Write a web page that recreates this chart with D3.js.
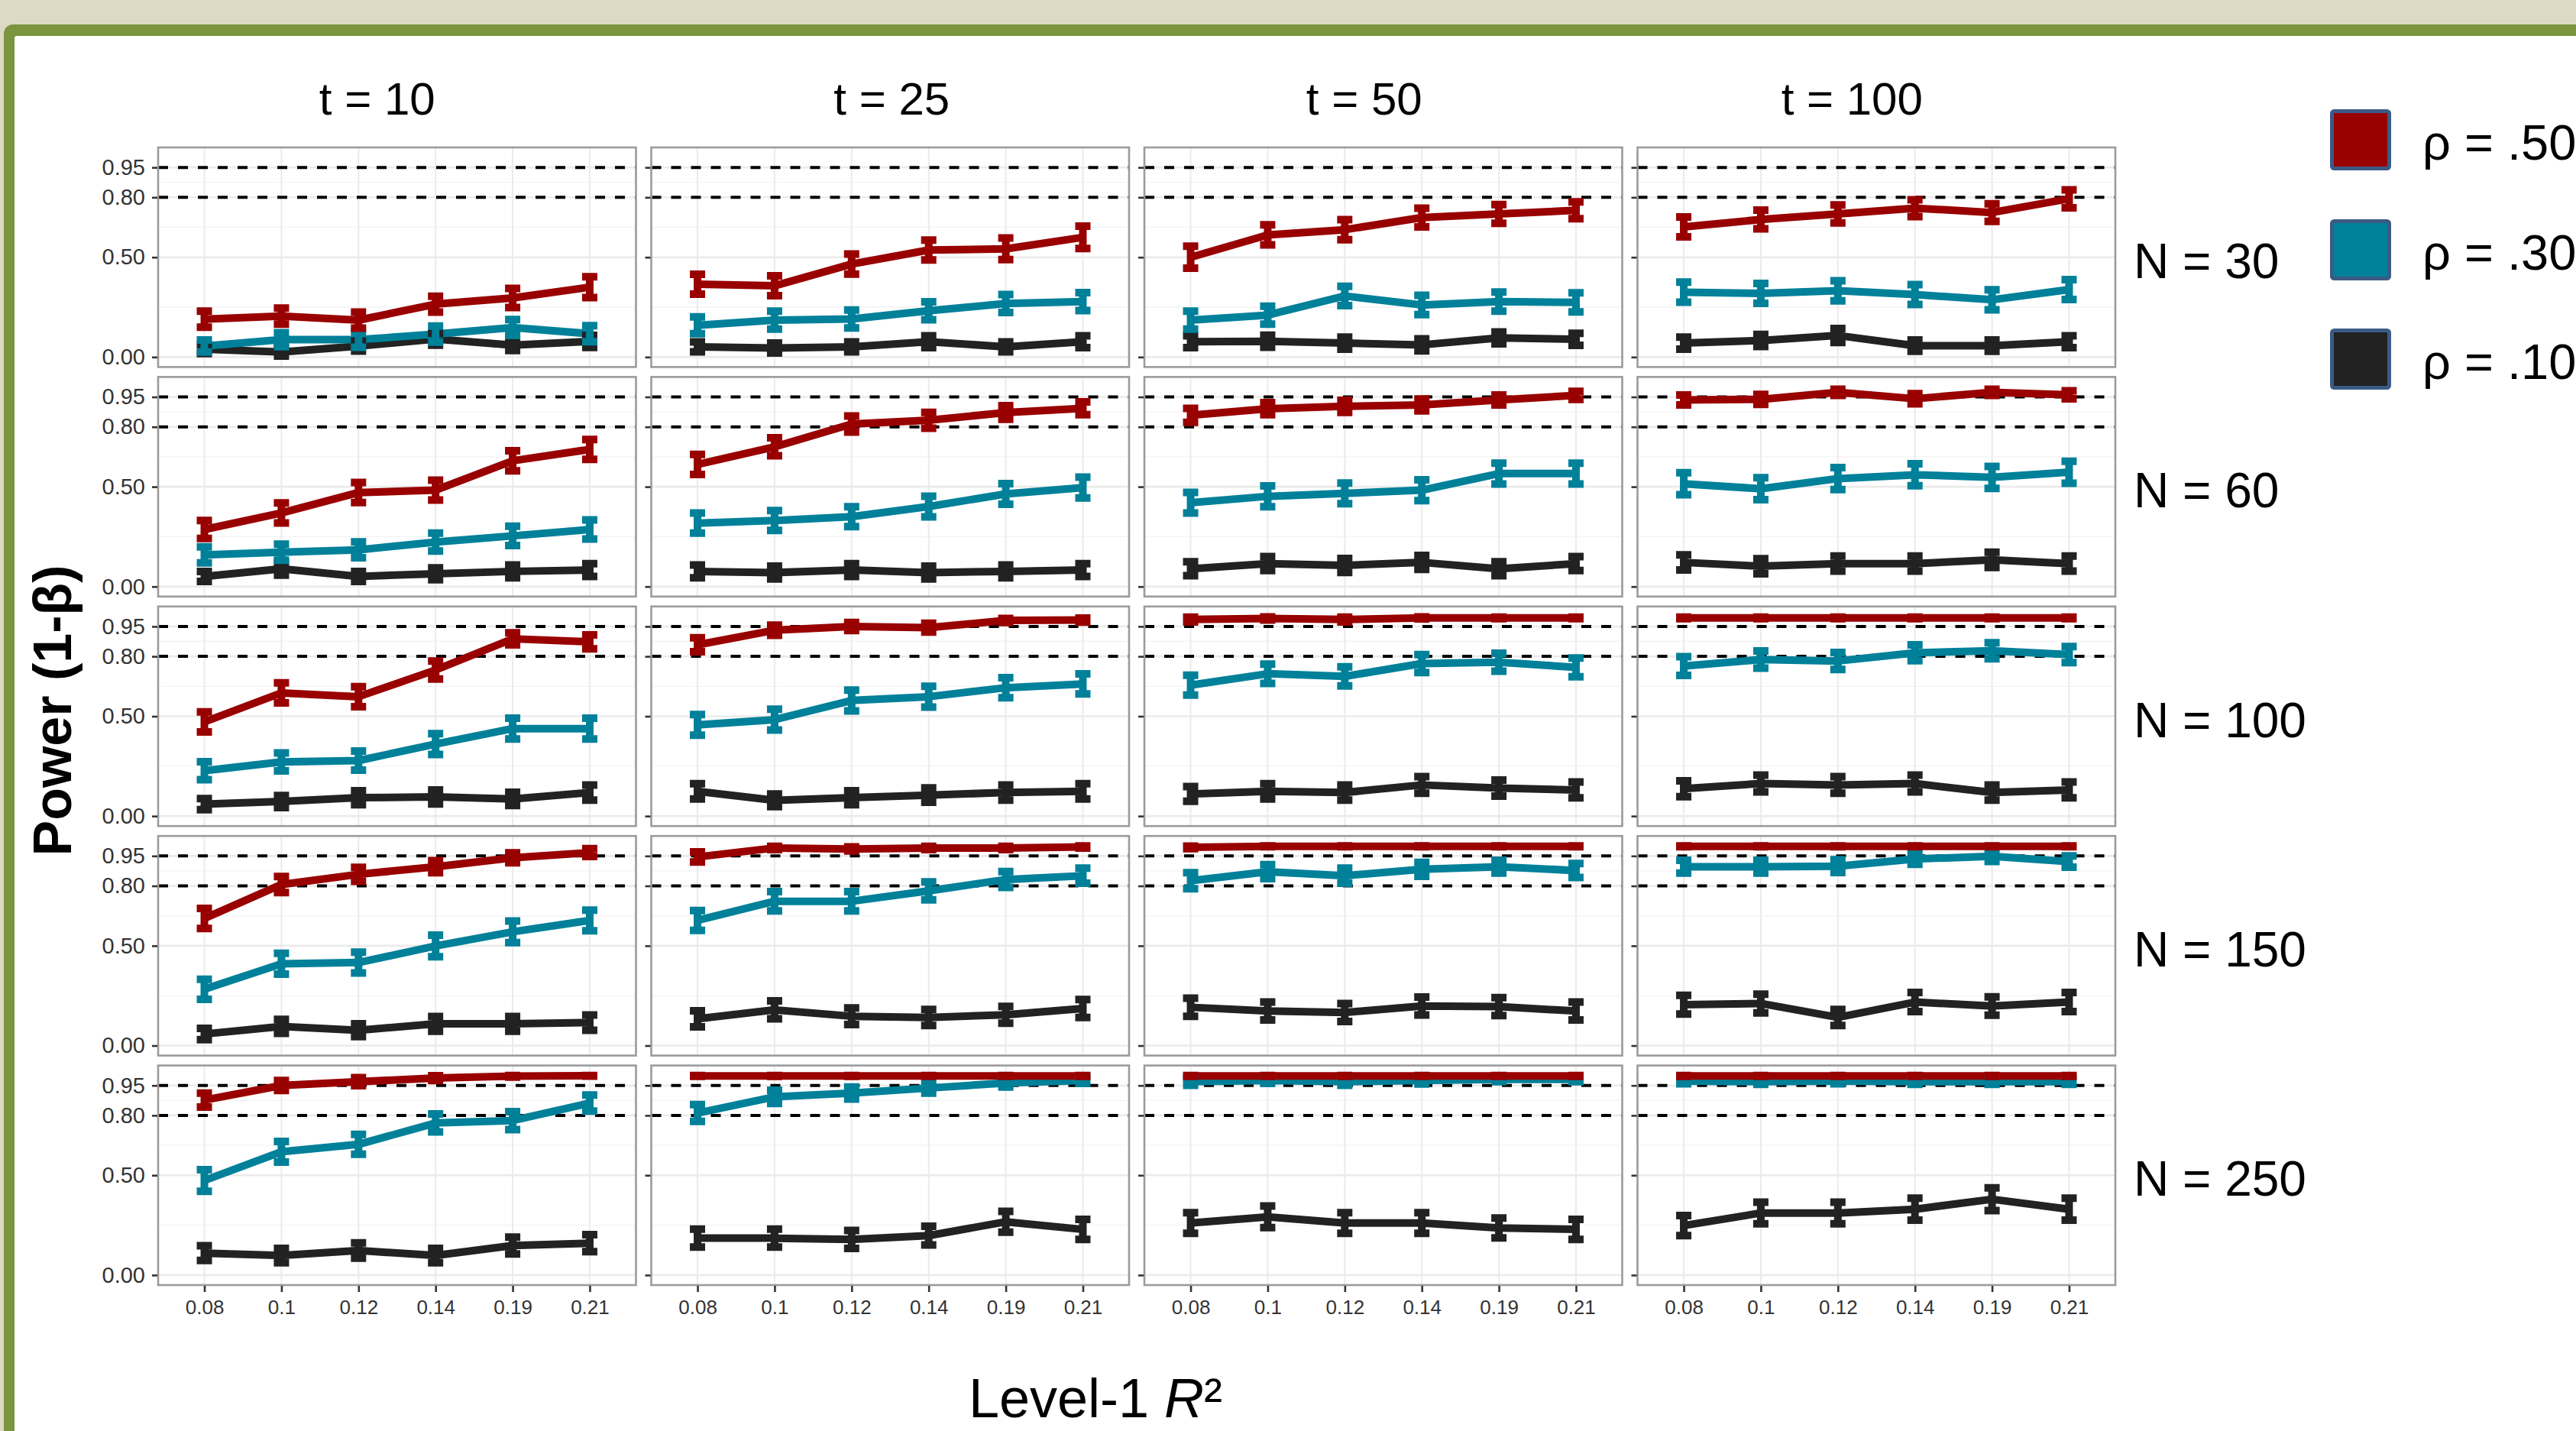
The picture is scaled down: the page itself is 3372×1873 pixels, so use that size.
<!DOCTYPE html>
<html><head><meta charset="utf-8">
<script src="https://cdn.jsdelivr.net/npm/d3@7"></script>
<style>html,body{margin:0;padding:0;background:#fff;overflow:hidden}text{font-family:"Liberation Sans",Arial,sans-serif}</style>
</head><body><svg id="c" width="3372" height="1873"></svg>
<script>
// ---------- data ----------
const tLabels = ["t = 10", "t = 25", "t = 50", "t = 100"];
const nLabels = ["N = 30", "N = 60", "N = 100", "N = 150", "N = 250"];
const r2Labels = ["0.08", "0.1", "0.12", "0.14", "0.19", "0.21"];
const rhoLabels = ["ρ = .50", "ρ = .30", "ρ = .10"];
const rhoColors = ["#990000", "#008099", "#222222"];
const yTicks = [0, 0.5, 0.8, 0.95];
const yMinor = [0.25, 0.65, 0.875];
const refLines = [0.8, 0.95];

// power[rowN][colT] = values over r2Labels
const powerRho50 = [
  [[0.19,0.205,0.185,0.265,0.296,0.35],[0.365,0.357,0.466,0.536,0.542,0.6],[0.5,0.612,0.638,0.699,0.717,0.735],[0.652,0.689,0.717,0.746,0.724,0.793]],
  [[0.286,0.369,0.471,0.483,0.63,0.687],[0.612,0.7,0.814,0.833,0.872,0.893],[0.858,0.891,0.903,0.91,0.935,0.958],[0.935,0.938,0.973,0.941,0.973,0.961]],
  [[0.472,0.617,0.598,0.732,0.888,0.873],[0.858,0.931,0.95,0.944,0.98,0.982],[0.985,0.99,0.985,0.993,0.993,0.993],[0.993,0.993,0.993,0.993,0.993,0.993]],
  [[0.637,0.807,0.858,0.896,0.941,0.967],[0.945,0.99,0.985,0.99,0.99,0.995],[0.993,0.998,0.998,0.998,0.998,0.998],[0.998,0.998,0.998,0.998,0.998,0.998]],
  [[0.877,0.95,0.969,0.987,0.997,0.999],[0.998,0.998,0.998,0.998,0.998,0.998],[0.998,0.998,0.998,0.998,0.998,0.998],[0.998,0.998,0.998,0.998,0.998,0.998]]
];
const errRho50 = [
  [[0.04,0.04,0.04,0.04,0.048,0.052],[0.05,0.05,0.05,0.05,0.054,0.056],[0.055,0.05,0.05,0.047,0.047,0.042],[0.05,0.047,0.045,0.042,0.044,0.045]],
  [[0.045,0.05,0.05,0.05,0.05,0.05],[0.05,0.045,0.04,0.04,0.034,0.032],[0.035,0.03,0.03,0.03,0.025,0.02],[0.025,0.025,0.015,0.025,0.015,0.02]],
  [[0.05,0.05,0.05,0.045,0.03,0.035],[0.035,0.025,0.02,0.022,0.01,0.01],[0.012,0.008,0.012,0.005,0.004,0.004],[0.004,0.004,0.004,0.004,0.004,0.004]],
  [[0.05,0.04,0.035,0.03,0.025,0.02],[0.025,0.008,0.01,0.008,0.008,0.005],[0.006,0.002,0.002,0.002,0.002,0.002],[0.002,0.002,0.002,0.002,0.002,0.002]],
  [[0.035,0.025,0.02,0.012,0.005,0.002],[0.002,0.002,0.002,0.002,0.002,0.002],[0.002,0.002,0.002,0.002,0.002,0.002],[0.002,0.002,0.002,0.002,0.002,0.002]]
];
const powerRho30 = [
  [[0.055,0.087,0.087,0.115,0.148,0.117],[0.159,0.185,0.191,0.232,0.268,0.278],[0.185,0.21,0.306,0.261,0.278,0.274],[0.325,0.319,0.332,0.313,0.287,0.338]],
  [[0.159,0.172,0.184,0.223,0.254,0.286],[0.318,0.331,0.35,0.401,0.464,0.496],[0.42,0.452,0.467,0.483,0.566,0.566],[0.515,0.49,0.541,0.56,0.547,0.573]],
  [[0.227,0.271,0.278,0.361,0.438,0.438],[0.457,0.483,0.579,0.598,0.643,0.662],[0.656,0.713,0.7,0.764,0.771,0.745],[0.752,0.784,0.777,0.818,0.828,0.809]],
  [[0.282,0.41,0.416,0.499,0.57,0.627],[0.627,0.723,0.723,0.775,0.832,0.851],[0.826,0.871,0.851,0.883,0.896,0.877],[0.896,0.896,0.899,0.935,0.948,0.922]],
  [[0.474,0.618,0.655,0.762,0.774,0.862],[0.812,0.893,0.912,0.937,0.962,0.975],[0.969,0.975,0.969,0.975,0.981,0.981],[0.972,0.969,0.972,0.969,0.969,0.969]]
];
const errRho30 = [
  [[0.03,0.035,0.038,0.04,0.04,0.04],[0.042,0.045,0.045,0.045,0.045,0.045],[0.045,0.045,0.048,0.048,0.048,0.048],[0.05,0.05,0.05,0.05,0.05,0.05]],
  [[0.04,0.04,0.04,0.045,0.048,0.048],[0.05,0.05,0.05,0.052,0.052,0.052],[0.052,0.052,0.052,0.052,0.052,0.052],[0.055,0.055,0.055,0.055,0.055,0.055]],
  [[0.045,0.045,0.048,0.052,0.052,0.052],[0.052,0.052,0.052,0.052,0.05,0.05],[0.05,0.048,0.048,0.045,0.045,0.047],[0.047,0.043,0.043,0.04,0.04,0.04]],
  [[0.05,0.052,0.052,0.054,0.054,0.052],[0.05,0.048,0.048,0.045,0.04,0.038],[0.04,0.035,0.038,0.035,0.032,0.035],[0.032,0.032,0.032,0.027,0.025,0.028]],
  [[0.054,0.052,0.05,0.045,0.045,0.04],[0.042,0.033,0.03,0.025,0.02,0.015],[0.018,0.015,0.018,0.017,0.012,0.012],[0.013,0.013,0.013,0.013,0.013,0.013]]
];
const powerRho10 = [
  [[0.04,0.025,0.055,0.09,0.06,0.078],[0.051,0.045,0.051,0.077,0.051,0.077],[0.077,0.079,0.07,0.061,0.096,0.089],[0.07,0.083,0.108,0.057,0.057,0.077]],
  [[0.051,0.089,0.051,0.064,0.076,0.083],[0.076,0.07,0.083,0.07,0.076,0.083],[0.089,0.115,0.106,0.121,0.089,0.115],[0.121,0.102,0.115,0.115,0.134,0.115]],
  [[0.06,0.073,0.092,0.096,0.086,0.118],[0.124,0.079,0.092,0.105,0.118,0.124],[0.111,0.124,0.118,0.156,0.14,0.131],[0.137,0.163,0.156,0.163,0.118,0.131]],
  [[0.058,0.096,0.077,0.109,0.109,0.115],[0.134,0.179,0.147,0.141,0.154,0.186],[0.192,0.173,0.166,0.198,0.195,0.173],[0.205,0.211,0.141,0.218,0.198,0.218]],
  [[0.11,0.098,0.123,0.098,0.148,0.16],[0.185,0.185,0.179,0.198,0.267,0.229],[0.261,0.292,0.261,0.261,0.236,0.229],[0.248,0.311,0.311,0.33,0.38,0.33]]
];
const errRho10 = [
  [[0.022,0.02,0.025,0.03,0.027,0.03],[0.025,0.025,0.025,0.03,0.025,0.03],[0.03,0.03,0.03,0.03,0.03,0.03],[0.03,0.03,0.035,0.028,0.028,0.03]],
  [[0.025,0.032,0.025,0.03,0.032,0.032],[0.032,0.032,0.032,0.032,0.032,0.032],[0.035,0.035,0.035,0.035,0.035,0.035],[0.038,0.038,0.038,0.038,0.038,0.038]],
  [[0.028,0.03,0.035,0.035,0.033,0.038],[0.038,0.032,0.035,0.036,0.038,0.038],[0.037,0.038,0.038,0.042,0.04,0.04],[0.04,0.042,0.042,0.042,0.038,0.04]],
  [[0.028,0.035,0.032,0.037,0.037,0.038],[0.04,0.045,0.042,0.04,0.042,0.045],[0.045,0.045,0.045,0.045,0.045,0.045],[0.047,0.047,0.04,0.048,0.046,0.048]],
  [[0.037,0.036,0.038,0.036,0.042,0.043],[0.045,0.045,0.045,0.047,0.052,0.05],[0.052,0.054,0.052,0.052,0.05,0.05],[0.05,0.054,0.054,0.055,0.057,0.055]]
];

// series in drawing order (bottom to top)
const seriesPower = [powerRho10, powerRho30, powerRho50];
const seriesErr = [errRho10, errRho30, errRho50];
const seriesColor = [rhoColors[2], rhoColors[1], rhoColors[0]];

// ---------- layout ----------
const W = 3372, H = 1873;
const svg = d3.select("#c");

svg.append("rect").attr("width", W).attr("height", H).attr("fill", "#ddd9c4");
svg.append("rect").attr("x", 5).attr("y", 32).attr("width", W + 60).attr("height", H + 60).attr("rx", 12).attr("fill", "#7b943f");
svg.append("rect").attr("x", 19).attr("y", 47).attr("width", W + 60).attr("height", H + 60).attr("rx", 3).attr("fill", "#ffffff");

const colBand = d3.scaleBand().domain(d3.range(tLabels.length)).range([207, 2769]).paddingInner(0.031);
const rowBand = d3.scaleBand().domain(d3.range(nLabels.length)).range([193, 1682]).paddingInner(0.0433);
const bw = colBand.bandwidth(), bh = rowBand.bandwidth();

const capHalf = 10;
const lw = 10;
// column-title horizontal offsets from column centre (titles were placed by hand in the source)
const titleShift = [-26, 2, -25, -32];

tLabels.forEach((tl, c) => {
  svg.append("text").attr("x", colBand(c) + bw / 2 + titleShift[c]).attr("y", 150)
    .attr("text-anchor", "middle").attr("font-size", 60).attr("fill", "#000").text(tl);
});

nLabels.forEach((nl, r) => {
  svg.append("text").attr("x", 2793).attr("y", rowBand(r) + bh / 2 + 27)
    .attr("font-size", 64).attr("fill", "#000").text(nl);
});

for (let r = 0; r < nLabels.length; r++) {
  for (let c = 0; c < tLabels.length; c++) {
    const x0 = colBand(c), y0 = rowBand(r);
    const x = d3.scalePoint().domain(r2Labels).range([x0, x0 + bw]).padding(0.6);
    const y = d3.scaleLinear().domain([-0.05, 1.05]).range([y0 + bh, y0]);
    const g = svg.append("g");

    // grid
    g.selectAll(".mn").data(yMinor).join("line")
      .attr("x1", x0).attr("x2", x0 + bw).attr("y1", d => y(d)).attr("y2", d => y(d))
      .attr("stroke", "#f3f3f3").attr("stroke-width", 1.3);
    g.selectAll(".mj").data(yTicks).join("line")
      .attr("x1", x0).attr("x2", x0 + bw).attr("y1", d => y(d)).attr("y2", d => y(d))
      .attr("stroke", "#ebebeb").attr("stroke-width", 2.6);
    g.selectAll(".vx").data(r2Labels).join("line")
      .attr("x1", d => x(d)).attr("x2", d => x(d)).attr("y1", y0).attr("y2", y0 + bh)
      .attr("stroke", "#ebebeb").attr("stroke-width", 2);

    // reference dashed lines
    g.selectAll(".ref").data(refLines).join("line")
      .attr("x1", x0).attr("x2", x0 + bw).attr("y1", d => y(d)).attr("y2", d => y(d))
      .attr("stroke", "#000").attr("stroke-width", 4).attr("stroke-dasharray", "13,13");

    // lines
    const line = d3.line().x((v, i) => x(r2Labels[i])).y(v => y(v));
    seriesPower.forEach((sp, s) => {
      g.append("path").attr("d", line(sp[r][c])).attr("fill", "none")
        .attr("stroke", seriesColor[s]).attr("stroke-width", lw)
        .attr("stroke-linejoin", "round");
    });
    // error bars
    seriesPower.forEach((sp, s) => {
      const vals = sp[r][c], errs = seriesErr[s][r][c];
      const p = d3.path();
      vals.forEach((v, i) => {
        const xx = x(r2Labels[i]);
        const hi = y(Math.min(v + errs[i], 1)), lo = y(v - errs[i]);
        p.moveTo(xx - capHalf, hi); p.lineTo(xx + capHalf, hi);
        p.moveTo(xx, hi); p.lineTo(xx, lo);
        p.moveTo(xx - capHalf, lo); p.lineTo(xx + capHalf, lo);
      });
      g.append("path").attr("d", p.toString()).attr("fill", "none")
        .attr("stroke", seriesColor[s]).attr("stroke-width", lw);
    });

    // border
    g.append("rect").attr("x", x0).attr("y", y0).attr("width", bw).attr("height", bh)
      .attr("fill", "none").attr("stroke", "#9b9b9b").attr("stroke-width", 2.6);

    // y axis
    const ya = d3.axisLeft(y).tickValues(yTicks).tickSize(7).tickPadding(9)
      .tickFormat(c === 0 ? d3.format(".2f") : () => "");
    const yg = svg.append("g").attr("transform", `translate(${x0 - 1},0)`).call(ya);
    yg.select(".domain").remove();
    yg.selectAll(".tick line").attr("stroke", "#333").attr("stroke-width", 2.6);
    yg.selectAll(".tick text").attr("font-size", 29).attr("fill", "#333")
      .attr("font-family", "Liberation Sans, Arial, sans-serif");

    if (r === nLabels.length - 1) {
      const xa = d3.axisBottom(x).tickSize(8).tickPadding(11);
      const xg = svg.append("g").attr("transform", `translate(0,${y0 + bh + 1})`).call(xa);
      xg.select(".domain").remove();
      xg.selectAll(".tick line").attr("stroke", "#333").attr("stroke-width", 2.6);
      xg.selectAll(".tick text").attr("font-size", 26).attr("fill", "#333")
        .attr("font-family", "Liberation Sans, Arial, sans-serif");
    }
  }
}

// axis titles
svg.append("text").attr("transform", "translate(93,930) rotate(-90)")
  .attr("text-anchor", "middle").attr("font-size", 70).attr("font-weight", "bold")
  .attr("fill", "#000").text("Power (1-β)");
const xt = svg.append("text").attr("x", 1434).attr("y", 1855).attr("text-anchor", "middle")
  .attr("font-size", 72).attr("fill", "#000");
xt.append("tspan").text("Level-1 ");
xt.append("tspan").attr("font-style", "italic").text("R");
xt.append("tspan").text("²");

// legend
const legY = [183, 327, 470];
rhoLabels.forEach((lab, i) => {
  svg.append("rect").attr("x", 3052.5).attr("y", legY[i] - 37.5).attr("width", 75).attr("height", 75)
    .attr("rx", 3).attr("fill", rhoColors[i]).attr("stroke", "#3b5b86").attr("stroke-width", 5);
  svg.append("text").attr("x", 3171).attr("y", legY[i] + 26).attr("font-size", 65)
    .attr("fill", "#000").text(lab);
});
</script>
</body></html>
